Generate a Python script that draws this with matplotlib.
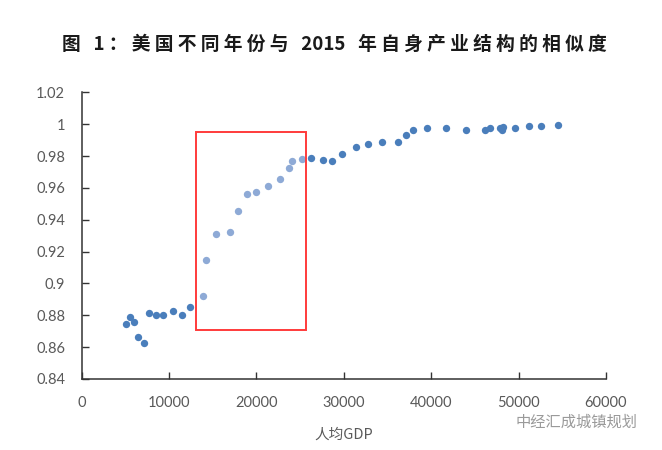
import matplotlib
matplotlib.use("Agg")
import matplotlib.pyplot as plt
from matplotlib.patches import Rectangle
import numpy as np

# 人均GDP 与 相似度
gdp = [5109, 5520, 5977, 6480, 7086, 7691, 8457, 9257, 10434, 11429,
       12377, 13829, 14171, 15394, 16994, 17943, 18937, 19920, 21291, 22709,
       23691, 24080, 25223, 26286, 27623, 28651, 29794, 31429, 32766, 34366,
       36149, 37143, 37943, 39463, 41634, 44034, 46171, 46777, 47920, 48194,
       48149, 49600, 51166, 52537, 54480]
similarity = [0.8745, 0.8791, 0.8758, 0.8662, 0.8626, 0.8813, 0.8800, 0.8800, 0.8825, 0.8800,
              0.8854, 0.8921, 0.9147, 0.9311, 0.9321, 0.9453, 0.9562, 0.9573, 0.9614, 0.9658,
              0.9723, 0.9767, 0.9780, 0.9790, 0.9777, 0.9767, 0.9811, 0.9855, 0.9876, 0.9888,
              0.9888, 0.9930, 0.9964, 0.9974, 0.9974, 0.9964, 0.9962, 0.9974, 0.9976, 0.9984,
              0.9964, 0.9974, 0.9987, 0.9987, 0.9997]

x_ticks = [0, 10000, 20000, 30000, 40000, 50000, 60000]
y_ticks = [0.84, 0.86, 0.88, 0.9, 0.92, 0.94, 0.96, 0.98, 1.0, 1.02]
y_labels = ["0.84", "0.86", "0.88", "0.9", "0.92", "0.94", "0.96", "0.98", "1", "1.02"]

# 高亮区间 (红框)
box_x = (13030, 25680)
box_y = (0.8708, 0.9953)

title = "图 1：美国不同年份与 2015 年自身产业结构的相似度"
xlabel = "人均GDP"
watermark = "中经汇成城镇规划"

cjk = ["Noto Sans CJK SC", "DejaVu Sans"]
num_font = ["Lato", "DejaVu Sans"]
gray = "#595959"


def spaced(s):
    # 原图标题字距较宽: 汉字之间加空格, 原有空格加宽
    out = ""
    for i, ch in enumerate(s):
        if ch == " ":
            out += "   "
            continue
        out += ch
        if i + 1 < len(s):
            nxt = s[i + 1]
            if nxt == " ":
                continue
            if ord(ch) > 0x2000 or ord(nxt) > 0x2000:
                out += " "
    return out


fig = plt.figure(figsize=(6.62, 4.50), dpi=100)
ax = fig.add_axes([0.1234, 0.1578, 0.792, 0.637])

x = np.array(gdp)
y = np.array(similarity)
inside = (x >= box_x[0]) & (x <= box_x[1])
ax.scatter(x[~inside], y[~inside], s=28, color="#4a7ebb", linewidths=0, zorder=3)
ax.scatter(x[inside], y[inside], s=28, color="#8eaad6", linewidths=0, zorder=3)

ax.add_patch(Rectangle((box_x[0], box_y[0]), box_x[1] - box_x[0], box_y[1] - box_y[0],
                       fill=False, edgecolor="#ff3b3b", linewidth=1.4, zorder=4))

ax.set_xlim(0, 60000)
ax.set_ylim(0.84, 1.02)
ax.set_xticks(x_ticks)
ax.set_xticklabels([str(t) for t in x_ticks], fontsize=10.5, color=gray, family=num_font)
ax.set_yticks(y_ticks)
ax.set_yticklabels(y_labels, fontsize=10.5, color=gray, family=num_font)
ax.tick_params(axis="both", direction="in", length=5, width=1, color="#333333", pad=12)

for s in ["top", "right"]:
    ax.spines[s].set_visible(False)
for s in ["left", "bottom"]:
    ax.spines[s].set_color("#333333")
    ax.spines[s].set_linewidth(1.1)

ax.set_xlabel(xlabel, fontsize=10.5, color=gray, family=cjk, labelpad=13)

fig.text(0.505, 0.902, spaced(title), ha="center", va="center", fontsize=13.5,
         fontweight="bold", color="#1a1a1a", family=cjk)
fig.text(0.963, 0.062, watermark, ha="right", va="center", fontsize=11,
         color="#9a9a9a", family=cjk)

fig.savefig("out.png", dpi=100)
